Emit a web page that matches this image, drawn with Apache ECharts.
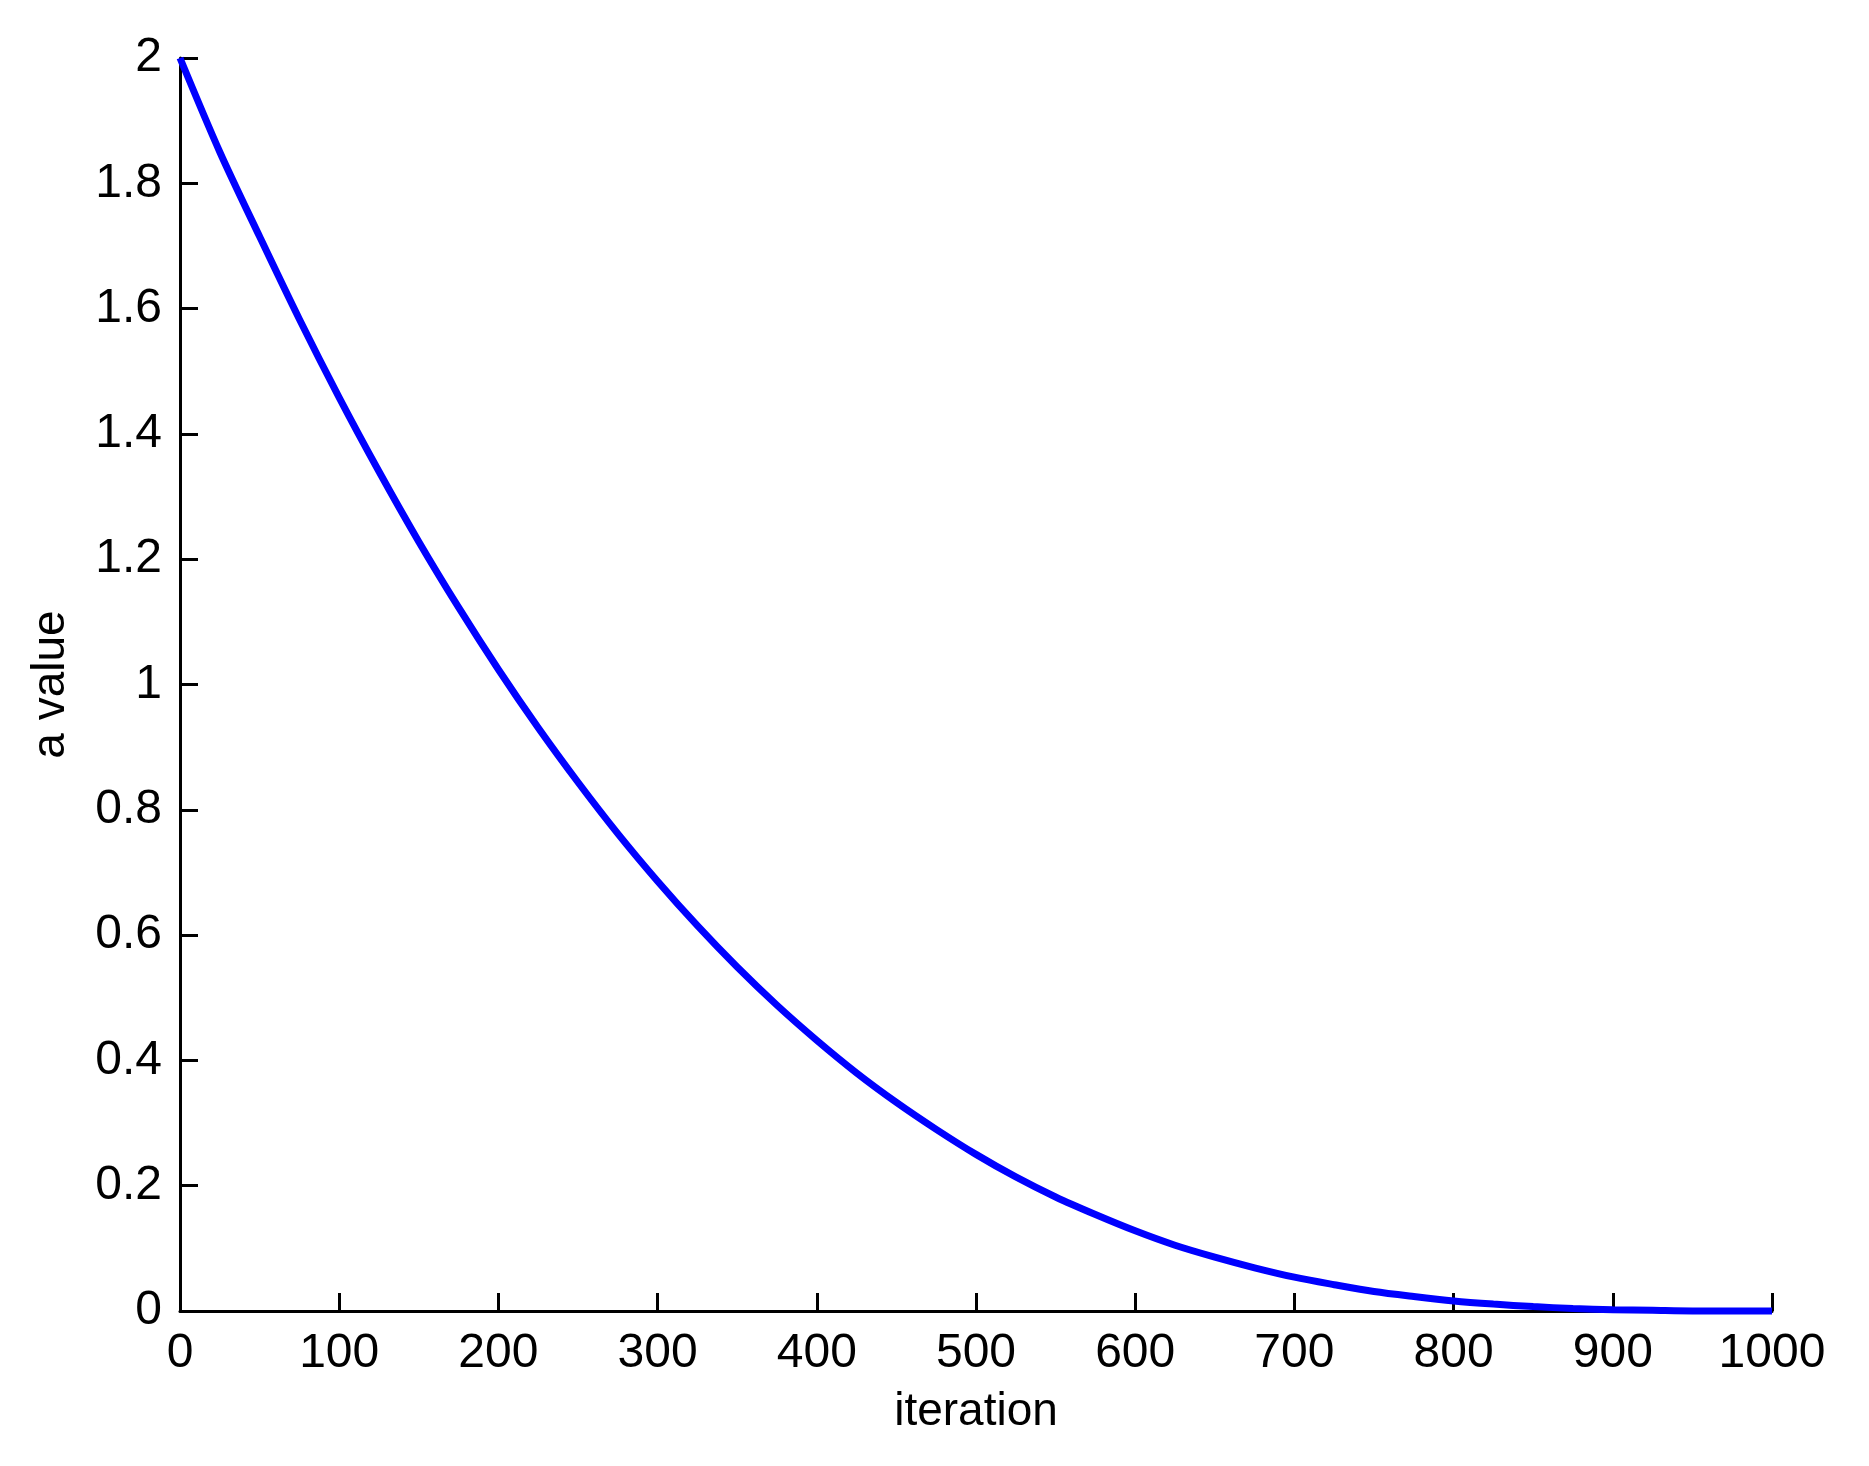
<!DOCTYPE html>
<html>
<head>
<meta charset="utf-8">
<title>a value vs iteration</title>
<script src="https://cdn.jsdelivr.net/npm/echarts@6.0.0/dist/echarts.min.js"></script>
<style>
  html, body { margin: 0; padding: 0; background: #fff; }
  #chart { width: 1869px; height: 1466px; }
</style>
</head>
<body>
<div id="chart"></div>
<script>
// values
const iterations = [0, 25, 50, 75, 100, 125, 150, 175, 200, 225, 250, 275, 300, 325, 350, 375, 400,
  425, 450, 475, 500, 525, 550, 575, 600, 625, 650, 675, 700, 725, 750, 775, 800, 825, 850, 875, 900,
  925, 950, 975, 1000]
const aValues = [2, 1.85, 1.715, 1.583, 1.458, 1.34, 1.228, 1.123, 1.024, 0.931, 0.844, 0.762, 0.686,
  0.615, 0.549, 0.488, 0.432, 0.38, 0.333, 0.29, 0.25, 0.214, 0.182, 0.154, 0.128, 0.105, 0.086,
  0.069, 0.054, 0.042, 0.031, 0.023, 0.016, 0.011, 0.007, 0.004, 0.002, 0.001, 0, 0, 0]
const xTicks = [0, 100, 200, 300, 400, 500, 600, 700, 800, 900, 1000]
const yTicks = [0, 0.2, 0.4, 0.6, 0.8, 1, 1.2, 1.4, 1.6, 1.8, 2]

const chart = echarts.init(document.getElementById('chart'))
const font = 'Liberation Sans, Arial, Helvetica, sans-serif'
const axisCommon = {
  type: 'value',
  nameLocation: 'middle',
  nameTextStyle: { color: '#000', fontSize: 46, fontFamily: font },
  axisLine: { show: true, lineStyle: { color: '#000', width: 3 } },
  axisTick: { show: true, inside: true, length: 18, lineStyle: { color: '#000', width: 3 } },
  axisLabel: { color: '#000', fontSize: 48, fontFamily: font, formatter: v => String(v) },
  splitLine: { show: false }
}

const option = {
  animation: false,
  backgroundColor: '#fff',
  grid: {
    left: 180,
    right: 97,
    top: 58,
    bottom: 155,
    containLabel: false
  },
  xAxis: Object.assign({}, axisCommon, {
    name: 'iteration',
    nameGap: 78,
    min: xTicks[0],
    max: xTicks[xTicks.length - 1],
    interval: 100,
    axisLabel: Object.assign({}, axisCommon.axisLabel, { margin: 19 })
  }),
  yAxis: Object.assign({}, axisCommon, {
    name: 'a value',
    nameGap: 106,
    min: yTicks[0],
    max: yTicks[yTicks.length - 1],
    interval: 0.2,
    axisLabel: Object.assign({}, axisCommon.axisLabel, { margin: 18 })
  }),
  series: [
    {
      name: 'a',
      type: 'line',
      showSymbol: false,
      smooth: 0.3,
      clip: false,
      z: 5,
      lineStyle: { color: '#0000ff', width: 7 },
      data: iterations.map((t, i) => [t, aValues[i]])
    }
  ]
}

chart.setOption(option)
</script>
</body>
</html>
